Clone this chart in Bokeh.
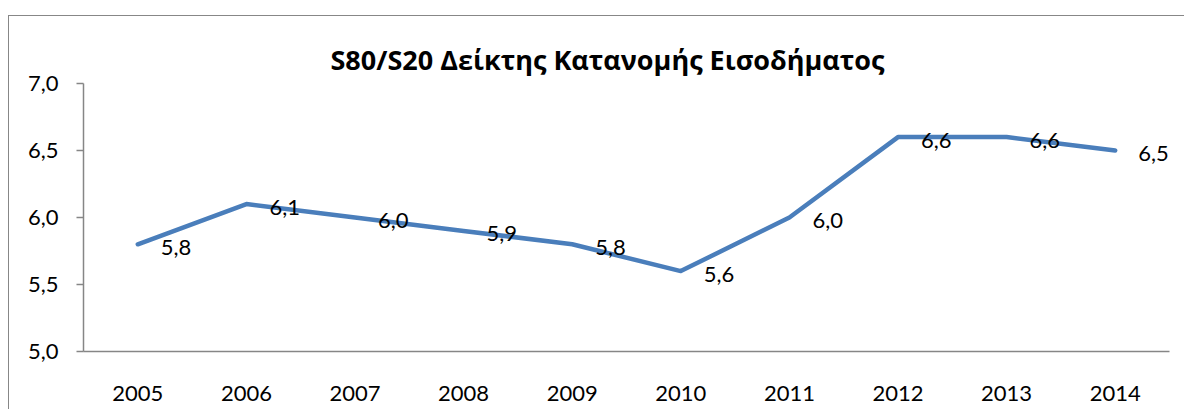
from bokeh.plotting import figure
from bokeh.models import ColumnDataSource, FixedTicker, CustomJSTickFormatter, Range1d
from bokeh.core.properties import value
from bokeh.embed import file_html
from bokeh.resources import INLINE

years = ["2005", "2006", "2007", "2008", "2009", "2010", "2011", "2012", "2013", "2014"]
values = [5.8, 6.1, 6.0, 5.9, 5.8, 5.6, 6.0, 6.6, 6.6, 6.5]
labels = ["5,8", "6,1", "6,0", "5,9", "5,8", "5,6", "6,0", "6,6", "6,6", "6,5"]
y_ticks = [5.0, 5.5, 6.0, 6.5, 7.0]
title_text = "S80/S20 Δείκτης Κατανομής Εισοδήματος"

FONT = "Lato"
AXIS_COLOR = "#868686"
BORDER_COLOR = "#878787"

src = ColumnDataSource(dict(x=years, y=values, lab=labels))

p = figure(
    x_range=years, y_range=Range1d(5.0, 7.0),
    width=1176, height=394,
    output_backend="svg", toolbar_location=None,
    min_border_left=74, min_border_right=16, min_border_top=67, min_border_bottom=59,
    background_fill_color="white", border_fill_color="white",
)
# outer chart-area border (only top and left edges are visible in the crop)
p.styles = {
    "border-top": f"1px solid {BORDER_COLOR}",
    "border-left": f"1px solid {BORDER_COLOR}",
    "margin-top": "15px",
    "margin-left": "8px",
}
p.outline_line_color = None
p.grid.visible = False
p.x_range.range_padding = 0

p.title.text = title_text
p.title.text_font = "Open Sans"
p.title.text_font_style = "bold"
p.title.text_font_size = "27px"
p.title.text_color = "black"
p.title.align = "left"
p.title.offset = 247
p.title.standoff = 11

p.line("x", "y", source=src, line_color="#4A7EBB", line_width=4.5,
       line_join="round", line_cap="round")
p.text("x", "y", text="lab", source=src, x_offset=23, y_offset=3,
       text_align="left", text_baseline="middle",
       text_font=value(FONT), text_font_size="22px", text_color="black")

p.yaxis.ticker = FixedTicker(ticks=y_ticks)
p.yaxis.formatter = CustomJSTickFormatter(code="return tick.toFixed(1).replace('.', ',');")
for ax in (p.xaxis, p.yaxis):
    ax.axis_line_color = AXIS_COLOR
    ax.axis_line_width = 1.5
    ax.major_label_text_font = FONT
    ax.major_label_text_font_size = "22px"
    ax.major_label_text_color = "black"
    ax.minor_tick_line_color = None
p.yaxis.major_tick_line_color = AXIS_COLOR
p.yaxis.major_tick_line_width = 1.5
p.yaxis.major_tick_out = 7
p.yaxis.major_tick_in = 0
p.yaxis.major_label_standoff = 18
p.xaxis.major_tick_line_color = None
p.xaxis.major_label_standoff = 28

open("out.html", "w").write(file_html(p, INLINE))
